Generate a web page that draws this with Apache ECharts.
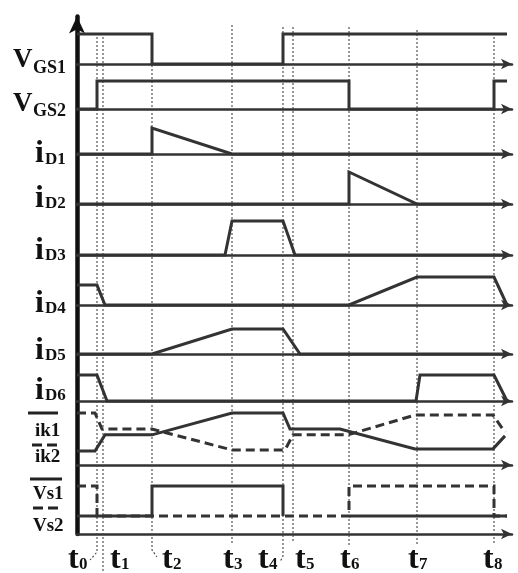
<!DOCTYPE html>
<html><head><meta charset="utf-8">
<script src="https://cdn.jsdelivr.net/npm/echarts@6/dist/echarts.min.js"></script>
<style>html,body{margin:0;padding:0;background:#fff}#c{width:518px;height:573px}</style>
</head><body><div id="c"></div>
<script>
// Switching instants t0..t8 on the shared time axis
const tNames = ['0', '1', '2', '3', '4', '5', '6', '7', '8'];
const tTimes = [20, 26, 75, 155, 206, 216, 272, 340, 417];

// Gate drives: [time, level] (level 1 = on)
const vgs1 = [[0, 1], [75, 1], [75, 0], [206, 0], [206, 1], [430, 1]];
const vgs2 = [[0, 0], [20, 0], [20, 1], [272, 1], [272, 0], [417, 0], [417, 1], [430, 1]];

// Diode currents: [time, normalised current]
const iD1 = [[0, 0], [75, 0], [75, 1], [155, 0], [430, 0]];
const iD2 = [[0, 0], [272, 0], [272, 1], [340, 0], [430, 0]];
const iD3 = [[0, 0], [148, 0], [155, 1], [206, 1], [218, 0], [430, 0]];
const iD4 = [[0, 0.71], [20, 0.71], [28, 0], [272, 0], [340, 1], [417, 1], [430, 0]];
const iD5 = [[0, 0], [75, 0], [155, 1], [206, 1], [223, 0], [430, 0]];
const iD6 = [[0, 1], [20, 1], [30, 0], [339, 0], [343, 1], [417, 1], [430, 0]];

// Switch currents ik1 (solid) / ik2 (dashed)
const ik1 = [[0, 0.27], [18, 0.27], [28, 0.58], [75, 0.58], [155, 1], [206, 1], [213, 0.69], [263, 0.69], [338, 0.31], [416, 0.31], [428, 0.56]];
const ik2 = [[0, 1], [18, 1], [25, 0.69], [75, 0.69], [155, 0.29], [208, 0.29], [216, 0.58], [271, 0.58], [338, 0.96], [416, 0.96], [428, 0.63]];

// Switch voltages Vs1 (solid) / Vs2 (dashed); the solid trace resumes at t6
const vs1 = [[0, 0.375], [75, 0.375], [75, 1], [206, 1], [206, 0.375], '-', [272, 0.375], [430, 0.375]];
const vs2 = [[0, 1], [20, 1], [20, 0.375], [272, 0.375], [272, 1], [417, 1], [417, 0.375], [430, 0.375]];

// ---- layout ----
const LEFT = 77, WIDTH = 435, XMAX = 435;
const INK = '#333';
const FONT = '"Liberation Serif", "Times New Roman", serif';

// lanes: zero line (px) and full-scale height (px)
const lanes = [
  { base: 64,  span: 30, series: [{ data: vgs1 }] },
  { base: 109, span: 28, series: [{ data: vgs2 }] },
  { base: 154, span: 26, series: [{ data: iD1 }] },
  { base: 204, span: 32, series: [{ data: iD2 }] },
  { base: 255, span: 34, series: [{ data: iD3 }] },
  { base: 305, span: 28, series: [{ data: iD4 }] },
  { base: 354, span: 25, series: [{ data: iD5 }] },
  { base: 401, span: 26, series: [{ data: iD6 }] },
  { base: 465, span: 52, series: [{ data: ik1 }, { data: ik2, dashed: true }] },
  { base: 534, span: 48, series: [{ data: vs1 }, { data: vs2, dashed: true }] }
];

const grids = [], xAxes = [], yAxes = [], series = [];
lanes.forEach((ln, i) => {
  grids.push({ left: LEFT, width: WIDTH, top: ln.base - ln.span, height: ln.span });
  xAxes.push({
    gridIndex: i, type: 'value', min: 0, max: XMAX,
    axisLine: { show: true, symbol: ['none', 'arrow'], symbolSize: [8, 11],
      lineStyle: { color: INK, width: 2.5 } },
    axisTick: { show: false }, axisLabel: { show: false }, splitLine: { show: false }
  });
  yAxes.push({ gridIndex: i, type: 'value', min: 0, max: 1, show: false });
  ln.series.forEach(s => {
    series.push({
      type: 'line', xAxisIndex: i, yAxisIndex: i, data: s.data,
      symbol: 'none', clip: false, z: 4, silent: true, connectNulls: false,
      lineStyle: { color: INK, width: 3, type: s.dashed ? [9, 5] : 'solid', join: 'miter', cap: 'butt' }
    });
  });
});

// main vertical axis with arrow
const FRAME = grids.length;
grids.push({ left: LEFT, width: WIDTH, top: 16.5, height: 534 - 16.5 });
xAxes.push({ gridIndex: FRAME, type: 'value', min: 0, max: XMAX, show: false });
yAxes.push({
  gridIndex: FRAME, type: 'value', min: 0, max: 1,
  axisLine: { show: true, symbol: ['none', 'arrow'], symbolSize: [12, 17],
    lineStyle: { color: '#111', width: 4.5 } },
  axisTick: { show: false }, axisLabel: { show: false }, splitLine: { show: false }
});

// guide grid for the dotted instant markers (vertical scale in px from the top)
const GUIDE = grids.length;
grids.push({ left: LEFT, width: WIDTH, top: 0, height: 573 });
xAxes.push({ gridIndex: GUIDE, type: 'value', min: 0, max: XMAX, show: false });
yAxes.push({ gridIndex: GUIDE, type: 'value', min: 0, max: 573, inverse: true, show: false });

const guideTop = [37, 37, 33, 25, 27, 27, 27, 30, 37];
const guideBottom = [552, 573, 550, 543, 556, 543, 545, 545, 545];
const guideHook = [[-7, 8], null, [5, 7], null, [-3, 6], null, null, null, null];
tTimes.forEach((t, i) => {
  const pts = [[t, guideTop[i]], [t, guideBottom[i]]];
  if (guideHook[i]) pts.push([t + guideHook[i][0], guideBottom[i] + guideHook[i][1]]);
  series.push({
    type: 'line', xAxisIndex: GUIDE, yAxisIndex: GUIDE, data: pts,
    symbol: 'none', clip: false, z: 1, silent: true,
    lineStyle: { color: '#444', width: 1.1, type: [2, 2] }
  });
});

const chart = echarts.init(document.getElementById('c'), null, { renderer: 'canvas' });
chart.setOption({
  animation: false,
  backgroundColor: '#fff',
  grid: grids, xAxis: xAxes, yAxis: yAxes, series: series
});

// ---- text labels ----
const graphics = [];
function txt(str, x, baseline, size) {
  graphics.push({
    type: 'text', x: x, y: baseline - 0.305 * size, silent: true,
    style: { text: str, font: 'bold ' + size + 'px ' + FONT, fill: '#111', align: 'left', verticalAlign: 'middle' }
  });
}
// lane names: main letter + subscript
const laneNames = [
  ['V', 'GS1', 13, 68, 27, 33, 74, 18],
  ['V', 'GS2', 13, 112, 27, 33, 117, 18],
  ['i', 'D1', 35, 163, 32, 45, 165, 17],
  ['i', 'D2', 35, 208, 32, 45, 209, 17],
  ['i', 'D3', 35, 260, 32, 45, 261, 17],
  ['i', 'D4', 35, 313, 32, 45, 314, 17],
  ['i', 'D5', 35, 360, 32, 45, 361, 17],
  ['i', 'D6', 35, 400, 32, 45, 401, 17]
];
laneNames.forEach(n => { txt(n[0], n[2], n[3], n[4]); txt(n[1], n[5], n[6], n[7]); });

// legend keys for the paired lanes
[['ik1', 35, 437, 19], ['ik2', 35, 463, 19], ['Vs1', 33, 500, 19], ['Vs2', 33, 532, 19]]
  .forEach(n => txt(n[0], n[1], n[2], n[3]));
[[413, 28, 58, false], [445, 32, 58, true], [479, 30, 62, false], [508, 33, 60, true]].forEach(b => {
  graphics.push({
    type: 'line', silent: true,
    shape: { x1: b[1], y1: b[0], x2: b[2], y2: b[0] },
    style: { stroke: '#222', lineWidth: 3, lineDash: b[3] ? [10, 5] : null }
  });
});

// instant labels t0..t8
const tLabelShift = [-29, 7, 10, -9, -25, 2, -9, -9, -11];
tTimes.forEach((t, i) => {
  const px = chart.convertToPixel({ gridIndex: GUIDE }, [t, 0])[0] + tLabelShift[i];
  txt('t', px, 569, 32);
  txt(tNames[i], px + 11, 570, 17);
});

chart.setOption({ graphic: graphics });
</script>
</body></html>
